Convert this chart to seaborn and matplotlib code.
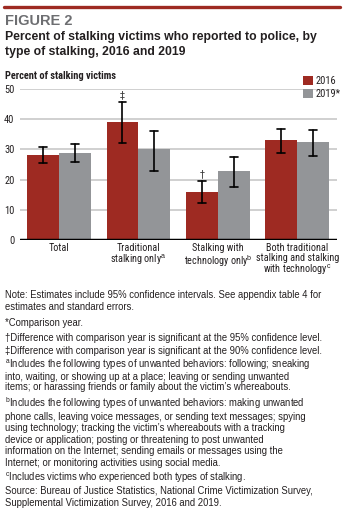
import matplotlib
matplotlib.use("Agg")
import matplotlib.pyplot as plt
import seaborn as sns
import pandas as pd
from matplotlib.patches import Patch
from matplotlib.lines import Line2D
from matplotlib import font_manager

# ---- data ----
categories = ["Total", "Traditional\nstalking only$^{\\mathrm{a}}$",
              "Stalking with\ntechnology only$^{\\mathrm{b}}$",
              "Both traditional\nstalking and stalking\nwith technology$^{\\mathrm{c}}$"]
years = ["2016", "2019*"]
values_2016 = [28.1, 39.1, 15.9, 33.1]
values_2019 = [28.8, 30.0, 22.8, 32.5]
lower_2016 = [25.4, 32.1, 12.2, 28.7]
upper_2016 = [30.7, 45.6, 19.4, 36.9]
lower_2019 = [25.7, 22.8, 17.6, 27.7]
upper_2019 = [31.7, 36.2, 27.6, 36.5]
markers_2016 = ["", "\u2021", "\u2020", ""]
yticks = [0, 10, 20, 30, 40, 50]

notes = [
    ("Note: Estimates include 95% confidence intervals. See appendix table 4 for", 295),
    ("estimates and standard errors.", 306.7),
    ("*Comparison year.", 323.3),
    ("\u2020Difference with comparison year is significant at the 95% confidence level.", 338.3),
    ("\u2021Difference with comparison year is significant at the 90% confidence level.", 351.3),
    ("$^{\\mathrm{a}}$Includes the following types of unwanted behaviors: following; sneaking", 365),
    ("into, waiting, or showing up at a place; leaving or sending unwanted", 376.7),
    ("items; or harassing friends or family about the victim\u2019s whereabouts.", 386.7),
    ("$^{\\mathrm{b}}$Includes the following types of unwanted behaviors: making unwanted", 404.5),
    ("phone calls, leaving voice messages, or sending text messages; spying", 416.7),
    ("using technology; tracking the victim\u2019s whereabouts with a tracking", 428.3),
    ("device or application; posting or threatening to post unwanted", 440),
    ("information on the Internet; sending emails or messages using the", 451.7),
    ("Internet; or monitoring activities using social media.", 463.3),
    ("$^{\\mathrm{c}}$Includes victims who experienced both types of stalking.", 478.3),
    ("Source: Bureau of Justice Statistics, National Crime Victimization Survey,", 491.7),
    ("Supplemental Victimization Survey, 2016 and 2019.", 503.3),
]

RED = "#9e2a22"
GRAY = "#939598"
DARK = "#231f20"

sns.set_theme(style="white")

# pick a condensed face if one is installed
entries = font_manager.fontManager.ttflist
names = {f.name for f in entries}
cond_family, cond_stretch, cond_scale = None, "normal", 1.0
for cand in ["Liberation Sans Narrow", "Roboto Condensed", "Open Sans Condensed",
             "Noto Sans Condensed", "DejaVu Sans Condensed"]:
    if cand in names:
        cond_family = cand
        break
if cond_family is None:
    for f in entries:
        if f.name in ("DejaVu Sans", "Noto Sans", "Roboto", "Open Sans") and \
                str(f.stretch) in ("condensed", "semi-condensed", "extra-condensed", "75", "87.5"):
            cond_family, cond_stretch = f.name, f.stretch
            break
if cond_family is None:
    cond_family, cond_scale = "Liberation Sans", 0.9

plt.rcParams["font.family"] = ["Liberation Sans", "DejaVu Sans"]
plt.rcParams["mathtext.fontset"] = "custom"
plt.rcParams["mathtext.rm"] = "Liberation Sans"

CF = dict(family=[cond_family, "DejaVu Sans"], stretch=cond_stretch)

W, H = 348, 523
fig = plt.figure(figsize=(W / 100, H / 100), dpi=100)
fig.patch.set_facecolor("white")

def fy(px):
    return 1 - px / H

ax = fig.add_axes([20 / W, fy(240), 317 / W, 151 / H])

df = pd.DataFrame({
    "category": categories * 2,
    "year": [years[0]] * 4 + [years[1]] * 4,
    "value": values_2016 + values_2019,
})
sns.barplot(data=df, x="category", y="value", hue="year", order=categories,
            hue_order=years, palette=[RED, GRAY], width=0.8, saturation=1,
            errorbar=None, legend=False, ax=ax, zorder=2, linewidth=0)

lows = [lower_2016, lower_2019]
highs = [upper_2016, upper_2019]
for ci, cont in enumerate(ax.containers):
    for bi, bar in enumerate(cont):
        cx = bar.get_x() + bar.get_width() / 2
        ax.plot([cx, cx], [lows[ci][bi], highs[ci][bi]], color="black", lw=1.2, zorder=4)
        for yv in (lows[ci][bi], highs[ci][bi]):
            ax.plot([cx - 0.05, cx + 0.05], [yv, yv], color="black", lw=1.2, zorder=4)
        if ci == 0 and markers_2016[bi]:
            ax.text(cx, highs[ci][bi] + 0.8, markers_2016[bi], ha="center", va="bottom",
                    fontsize=7, color="#3a3a3a", family=["DejaVu Sans"], zorder=5)

ax.set_xlim(-0.49, 3.5)
ax.set_ylim(0, 50)
ax.set_yticks(yticks)
ax.set_yticklabels([str(t) for t in yticks], fontsize=7.5 * cond_scale, color=DARK, **CF)
for t in yticks[1:]:
    ax.axhline(t, color="#c8c8c8", lw=1.2, zorder=1)
ax.axhline(0, color="black", lw=2.5, zorder=5)
for s in ax.spines.values():
    s.set_visible(False)
ax.tick_params(axis="both", length=0, pad=2)
ax.tick_params(axis="y", pad=4)
ax.set_xlabel("")
ax.set_ylabel("")
ax.set_xticks(range(len(categories)))
ax.set_xticklabels(categories, fontsize=7.3 * cond_scale, color=DARK, linespacing=1.0, **CF)
ax.patch.set_alpha(0)

# legend
handles = [Patch(facecolor=RED, edgecolor="none"), Patch(facecolor=GRAY, edgecolor="none")]
leg = fig.legend(handles, ["2016", "2019*"], loc="upper left",
                 bbox_to_anchor=(303 / W, fy(76)), frameon=False,
                 prop=font_manager.FontProperties(family=[cond_family, "DejaVu Sans"],
                                                  stretch=cond_stretch, size=7.5 * cond_scale),
                 handlelength=0.95, handleheight=0.95, handletextpad=0.3,
                 labelspacing=0.3, borderpad=0, borderaxespad=0)
for t in leg.get_texts():
    t.set_color(DARK)

# header
fig.add_artist(Line2D([4 / W, 340 / W], [fy(6.5), fy(6.5)], color=RED, lw=2.4))
fig.text(5 / W, fy(25), "FIGURE 2", fontsize=10.5, fontweight="bold", color="#6d6e71",
         va="baseline")
fig.text(5 / W, fy(40), "Percent of stalking victims who reported to police, by",
         fontsize=8.8, fontweight="bold", color=DARK, va="baseline")
fig.text(5 / W, fy(55), "type of stalking, 2016 and 2019",
         fontsize=8.8, fontweight="bold", color=DARK, va="baseline")
fig.text(5 / W, fy(79), "Percent of stalking victims", fontsize=7.5 * cond_scale,
         fontweight="bold", color=DARK, va="baseline", **CF)

for txt, yc in notes:
    fig.text(5 / W, fy(yc + 2.8), txt, fontsize=6.85, color=DARK, va="baseline")

fig.savefig("out.png", dpi=100, facecolor="white")
